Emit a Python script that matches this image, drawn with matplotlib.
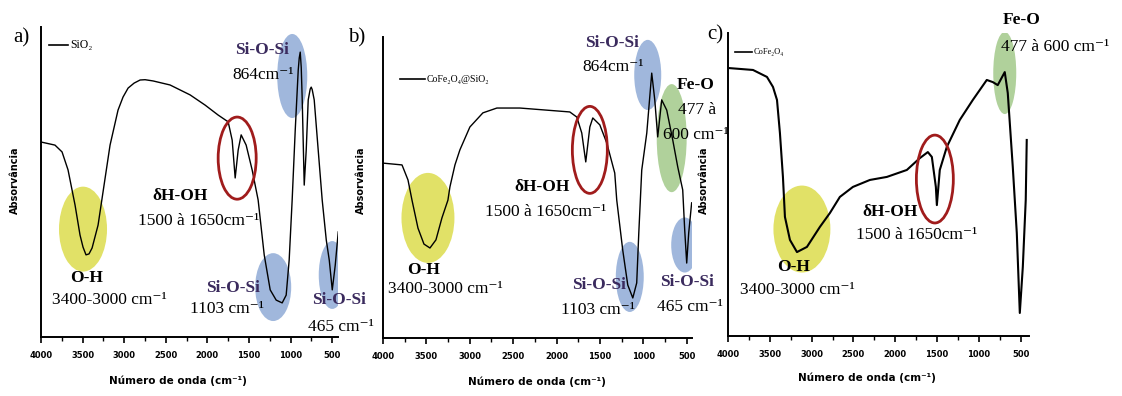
import matplotlib
matplotlib.use("Agg")
import matplotlib.pyplot as plt
from matplotlib.patches import Ellipse
from matplotlib.ticker import MultipleLocator

W, H = 1122, 396
SERIF = ["Liberation Serif", "DejaVu Serif"]
PURPLE = "#3b2b5e"
YELLOW = "#dcdc4c"
BLUE = "#8fabd6"
GREEN = "#a2c98a"
RED = "#a01c1c"

# a) SiO2 -- wavenumber (cm-1) and relative absorbance
wn_a = [4000, 3832, 3747, 3675, 3591, 3531, 3495, 3459, 3423, 3386, 3314, 3242, 3170,
        3074, 3014, 2953, 2881, 2809, 2749, 2653, 2449, 2208, 2027, 1871, 1750, 1702,
        1666, 1630, 1594, 1534, 1462, 1390, 1317, 1245, 1173, 1101, 1053, 1017, 981,
        944, 908, 896, 884, 872, 860, 836, 812, 788, 764, 752, 740, 716, 668, 620, 571,
        535, 499, 463, 427]
abs_a = [0.629, 0.619, 0.597, 0.539, 0.426, 0.329, 0.290, 0.265, 0.268, 0.287, 0.361,
         0.490, 0.619, 0.732, 0.774, 0.803, 0.819, 0.829, 0.830, 0.826, 0.813, 0.781,
         0.748, 0.716, 0.694, 0.635, 0.513, 0.603, 0.652, 0.619, 0.539, 0.442, 0.265,
         0.152, 0.119, 0.110, 0.135, 0.248, 0.442, 0.668, 0.861, 0.900, 0.919, 0.870,
         0.765, 0.490, 0.603, 0.765, 0.800, 0.806, 0.798, 0.765, 0.603, 0.442, 0.313,
         0.248, 0.152, 0.232, 0.339]

# b) CoFe2O4@SiO2
wn_b = [4000, 3781, 3712, 3666, 3597, 3528, 3459, 3390, 3321, 3252, 3229, 3171, 3114,
        2999, 2849, 2688, 2423, 1848, 1767, 1710, 1664, 1617, 1583, 1502, 1422, 1330,
        1307, 1238, 1180, 1122, 1077, 1053, 1019, 961, 904, 869, 835, 789, 731, 662,
        604, 547, 524, 501, 478, 444]
abs_b = [0.581, 0.575, 0.525, 0.458, 0.365, 0.312, 0.299, 0.326, 0.399, 0.458, 0.502,
         0.575, 0.625, 0.701, 0.748, 0.764, 0.764, 0.751, 0.734, 0.681, 0.585, 0.701,
         0.731, 0.708, 0.648, 0.548, 0.458, 0.292, 0.176, 0.133, 0.183, 0.349, 0.558,
         0.681, 0.880, 0.791, 0.668, 0.791, 0.757, 0.658, 0.568, 0.492, 0.359, 0.249,
         0.349, 0.449]

# c) CoFe2O4
wn_c = [3976, 3701, 3534, 3462, 3414, 3379, 3343, 3319, 3259, 3175, 3056, 2901, 2781,
        2662, 2506, 2303, 2100, 1861, 1706, 1610, 1562, 1514, 1502, 1467, 1383, 1228,
        1072, 905, 833, 774, 690, 654, 594, 546, 510, 474, 439, 427]
abs_c = [0.884, 0.878, 0.855, 0.822, 0.779, 0.670, 0.525, 0.393, 0.317, 0.277, 0.294,
         0.360, 0.406, 0.459, 0.492, 0.515, 0.525, 0.548, 0.587, 0.607, 0.591, 0.492,
         0.432, 0.548, 0.624, 0.713, 0.779, 0.845, 0.838, 0.828, 0.871, 0.802, 0.558,
         0.340, 0.076, 0.228, 0.449, 0.647]

xticks = [4000, 3500, 3000, 2500, 2000, 1500, 1000, 500]

# band highlights: (wavenumber, y, width, height, kind, colour)
bands_a = [(3495, 0.348, 577, 0.274, "fill", YELLOW),
           (1642, 0.577, 457, 0.265, "ring", RED),
           (980, 0.842, 361, 0.271, "fill", BLUE),
           (1209, 0.161, 433, 0.219, "fill", BLUE),
           (499, 0.200, 325, 0.219, "fill", BLUE)]
bands_b = [(3482, 0.399, 610, 0.299, "fill", YELLOW),
           (1617, 0.625, 403, 0.289, "ring", RED),
           (950, 0.874, 311, 0.233, "fill", BLUE),
           (674, 0.664, 345, 0.359, "fill", GREEN),
           (1157, 0.203, 322, 0.233, "fill", BLUE),
           (524, 0.309, 311, 0.183, "fill", BLUE)]
bands_c = [(3116, 0.353, 681, 0.287, "fill", YELLOW),
           (1526, 0.518, 442, 0.290, "ring", RED),
           (690, 0.868, 275, 0.271, "fill", GREEN)]


def px(x, y):
    return x / W, 1 - y / H


def txt(x, y, s, size=12.5, bold=False, color="black", ha="center"):
    fig.text(*px(x, y), s, ha=ha, va="center", fontsize=size, family=SERIF,
             fontweight="bold" if bold else "normal", color=color)


def panel(left, top, right, bottom, xmax, wn, ab, bands, lw=1.0):
    ax = fig.add_axes([left / W, 1 - bottom / H, (right - left) / W, (bottom - top) / H])
    for (c, y, w, h, kind, col) in bands:
        if kind == "fill":
            ax.add_patch(Ellipse((c, y), w, h, facecolor=col, alpha=0.85, edgecolor="none", zorder=1))
        else:
            ax.add_patch(Ellipse((c, y), w, h, facecolor="none", edgecolor=col, lw=2.0, zorder=3))
    ax.plot(wn, ab, color="black", lw=lw, zorder=2)
    ax.set_xlim(4000, xmax)
    ax.set_ylim(0, 1)
    ax.set_yticks([])
    ax.set_xticks(xticks)
    ax.xaxis.set_minor_locator(MultipleLocator(250))
    ax.tick_params(axis="x", which="major", length=4, width=1.2, labelsize=6, pad=6)
    ax.tick_params(axis="x", which="minor", length=3, width=1.0)
    for lab in ax.get_xticklabels():
        lab.set_fontweight("bold")
    for s in ("top", "right"):
        ax.spines[s].set_visible(False)
    for s in ("left", "bottom"):
        ax.spines[s].set_linewidth(1.4)
    ax.patch.set_alpha(0)
    return ax


fig = plt.figure(figsize=(W / 100, H / 100), dpi=100)

axa = panel(41, 27, 338, 337, 430, wn_a, abs_a, bands_a)
axb = panel(383, 37, 692, 338, 440, wn_b, abs_b, bands_b)
axc = panel(728, 33, 1029, 336, 400, wn_c, abs_c, bands_c, lw=1.5)

# panel letters
txt(21, 38, "a)", size=15)
txt(357, 38, "b)", size=15)
txt(715, 35, "c)", size=15)

# y labels
for x in (15, 361, 704):
    fig.text(*px(x, 180), "Absorvância", rotation=90, ha="center", va="center",
             fontsize=7, fontweight="bold")

# x labels
for x, y in ((178, 381), (537, 382), (867, 378)):
    fig.text(*px(x, y), "Número de onda (cm⁻¹)", ha="center", va="center",
             fontsize=7.5, fontweight="bold")

# legends
for x0, x1, y, name, fs in ((49, 68, 45, "SiO₂", 8.5), (400, 425, 79, "CoFe₂O₄@SiO₂", 7),
                            (735, 752, 52, "CoFe₂O₄", 6)):
    fig.add_artist(plt.Line2D([x0 / W, x1 / W], [1 - y / H, 1 - y / H], color="black", lw=1.2))
    fig.text(x1 / W + 2 / W, 1 - y / H, name, ha="left", va="center", fontsize=fs, family=SERIF)

# a) annotations
txt(262, 50, "Si-O-Si", bold=True, color=PURPLE)
txt(263, 75, "864cm⁻¹")
txt(180, 196, "δH-OH", bold=True)
txt(199, 221, "1500 à 1650cm⁻¹")
txt(87, 278, "O-H", bold=True)
txt(109, 300, "3400-3000 cm⁻¹")
txt(233, 288, "Si-O-Si", bold=True, color=PURPLE)
txt(227, 309, "1103 cm⁻¹")
txt(339, 300, "Si-O-Si", bold=True, color=PURPLE)
txt(341, 327, "465 cm⁻¹")

# b) annotations
txt(612, 43, "Si-O-Si", bold=True, color=PURPLE)
txt(613, 67, "864cm⁻¹")
txt(696, 85, "Fe-O", bold=True)
txt(697, 110, "477 à")
txt(696, 135, "600 cm⁻¹")
txt(542, 187, "δH-OH", bold=True)
txt(546, 212, "1500 à 1650cm⁻¹")
txt(424, 270, "O-H", bold=True)
txt(445, 289, "3400-3000 cm⁻¹")
txt(599, 285, "Si-O-Si", bold=True, color=PURPLE)
txt(598, 310, "1103 cm⁻¹")
txt(687, 282, "Si-O-Si", bold=True, color=PURPLE)
txt(690, 307, "465 cm⁻¹")

# c) annotations
txt(1022, 20, "Fe-O", bold=True)
txt(1055, 47, "477 à 600 cm⁻¹")
txt(890, 212, "δH-OH", bold=True)
txt(917, 235, "1500 à 1650cm⁻¹")
txt(794, 267, "O-H", bold=True)
txt(797, 290, "3400-3000 cm⁻¹")

fig.savefig("out.png", dpi=100)
